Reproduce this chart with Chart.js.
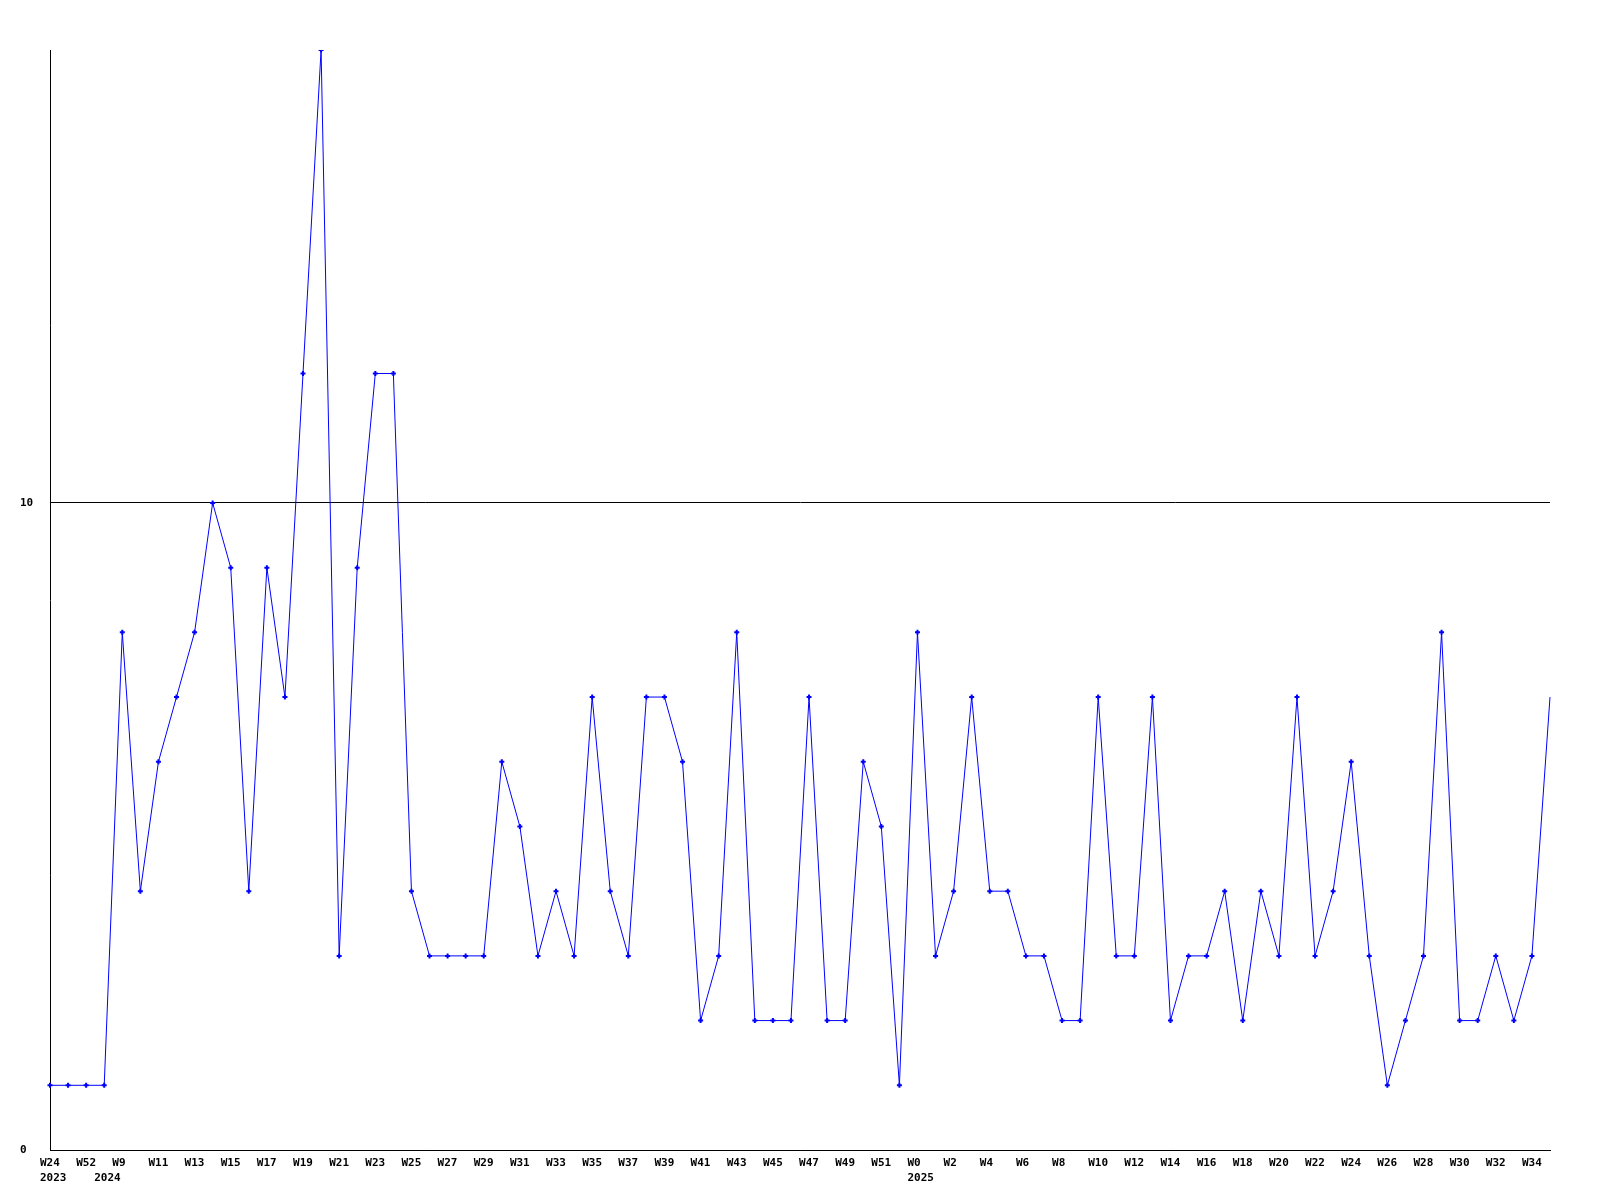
<!DOCTYPE html>
<html>
<head>
<meta charset="utf-8">
<script src="https://cdn.jsdelivr.net/npm/chart.js@4/dist/chart.umd.min.js"></script>
<style>
  html, body { margin: 0; padding: 0; background: #fff; }
  #wrap { width: 1600px; height: 1200px; }
</style>
</head>
<body>
<div id="wrap"><canvas id="c" width="1600" height="1200"></canvas></div>
<script>
// ---------- data ----------
const weeks = [
  'W24', 'W51', 'W52', 'W8',
  'W9', 'W10', 'W11', 'W12', 'W13', 'W14', 'W15', 'W16', 'W17', 'W18', 'W19', 'W20',
  'W21', 'W22', 'W23', 'W24', 'W25', 'W26', 'W27', 'W28', 'W29', 'W30', 'W31', 'W32',
  'W33', 'W34', 'W35', 'W36', 'W37', 'W38', 'W39', 'W40', 'W41', 'W42', 'W43', 'W44',
  'W45', 'W46', 'W47', 'W48', 'W49', 'W50', 'W51', 'W52',
  'W0', 'W1', 'W2', 'W3', 'W4', 'W5', 'W6', 'W7', 'W8', 'W9', 'W10', 'W11',
  'W12', 'W13', 'W14', 'W15', 'W16', 'W17', 'W18', 'W19', 'W20', 'W21', 'W22', 'W23',
  'W24', 'W25', 'W26', 'W27', 'W28', 'W29', 'W30', 'W31', 'W32', 'W33', 'W34', 'W35'
];

const values = [
  1, 1, 1, 1,
  8, 4, 6, 7, 8, 10, 9, 4, 9, 7, 12, 17,
  3, 9, 12, 12, 4, 3, 3, 3, 3, 6, 5, 3,
  4, 3, 7, 4, 3, 7, 7, 6, 2, 3, 8, 2,
  2, 2, 7, 2, 2, 6, 5, 1,
  8, 3, 4, 7, 4, 4, 3, 3, 2, 2, 7, 3,
  3, 7, 2, 3, 3, 4, 2, 4, 3, 7, 3, 4,
  6, 3, 1, 2, 3, 8, 2, 2, 3, 2, 3, 7
];

// year shown under the first point of each year
const yearLabels = ['2023', '2024', '2025'];
const yearStart  = [0, 3, 48];

const yTicks = [0, 10];
const yMax = 17;

// ---------- chart ----------
const tickFont = { family: 'DejaVu Sans Mono', size: 11, weight: 'bold', lineHeight: 1.35 };

new Chart(document.getElementById('c'), {
  type: 'line',
  data: {
    labels: weeks,
    datasets: [{
      data: values,
      borderColor: '#0000ff',
      backgroundColor: '#0000ff',
      borderWidth: 1,
      tension: 0,
      pointStyle: 'cross',
      pointRadius: ctx => ctx.dataIndex === values.length - 1 ? 0 : 2.5,
      pointBorderWidth: 2,
      pointBorderColor: '#0000ff',
    }]
  },
  options: {
    responsive: false,
    animation: false,
    layout: { padding: { top: 50, right: 50, left: 20, bottom: 0 } },
    plugins: {
      legend: { display: false },
      tooltip: { enabled: false }
    },
    scales: {
      x: {
        type: 'category',
        offset: false,
        grid: { display: false, drawTicks: false },
        border: { display: true, color: '#000', width: 1 },
        ticks: {
          autoSkip: false,
          maxRotation: 0,
          minRotation: 0,
          align: 'start',
          labelOffset: -10,
          padding: 6,
          color: '#000',
          font: tickFont,
          callback: (v, i) => {
            const wk = i % 2 === 0 ? weeks[i] : '';
            const y = yearStart.indexOf(i);
            if (y >= 0) return [wk, yearLabels[y]];
            return wk;
          }
        },
        afterFit: s => { s.height = 50; }
      },
      y: {
        min: 0,
        max: yMax,
        grid: { color: '#000', lineWidth: 1, drawTicks: false },
        border: { display: true, color: '#000', width: 1 },
        afterBuildTicks: s => { s.ticks = yTicks.map(v => ({ value: v })); },
        ticks: {
          crossAlign: 'far',
          padding: 4,
          color: '#000',
          font: tickFont,
          callback: v => String(v)
        },
        afterFit: s => { s.width = 30; }
      }
    }
  }
});
</script>
</body>
</html>
